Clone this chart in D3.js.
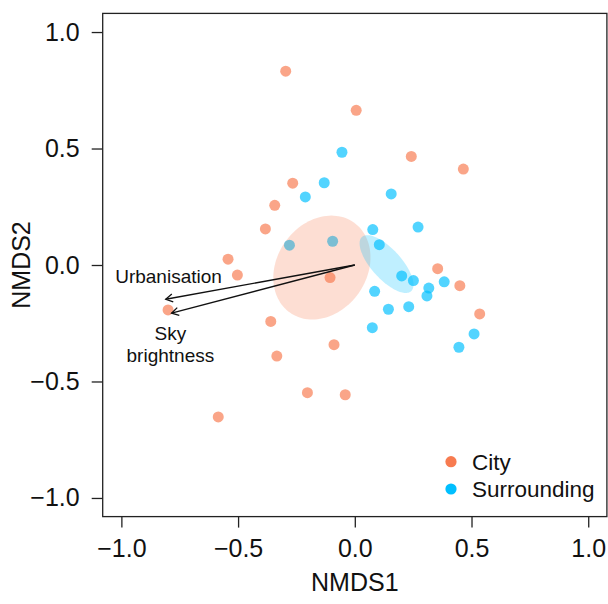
<!DOCTYPE html>
<html>
<head>
<meta charset="utf-8">
<script src="https://cdn.jsdelivr.net/npm/d3@7"></script>
<style>
  html, body { margin: 0; padding: 0; background: #fff; }
  svg { display: block; font-family: "Liberation Sans", Arial, sans-serif; }
</style>
</head>
<body>
<svg id="chart" width="608" height="604"></svg>
<script>
// ---- data ----
const cityX = [-0.296, 0.006, 0.242, 0.465, -0.266, -0.343, -0.383, -0.543, -0.503, -0.106,
               0.355, 0.450, 0.535, -0.800, -0.360, -0.089, -0.334, -0.203, -0.041, -0.585];
const cityY = [0.832, 0.664, 0.466, 0.412, 0.351, 0.256, 0.155, 0.025, -0.043, -0.054,
               -0.016, -0.089, -0.210, -0.193, -0.242, -0.342, -0.391, -0.548, -0.557, -0.652];
const surrX = [-0.055, -0.131, -0.212, 0.156, 0.271, 0.077, 0.105, -0.280, -0.095, 0.201,
               0.251, 0.383, 0.317, 0.309, 0.085, 0.144, 0.231, 0.075, 0.511, 0.446];
const surrY = [0.484, 0.353, 0.292, 0.305, 0.163, 0.152, 0.087, 0.085, 0.102, -0.047,
               -0.067, -0.072, -0.099, -0.133, -0.113, -0.190, -0.179, -0.269, -0.296, -0.353];

// ellipses: [centerX, centerY, semiMajor, semiMinor, angleDeg]
const groups = ["City", "Surrounding"];
const groupColors = ["#F77B50", "#00BFFF"];
const ellipseCity = [-0.141, -0.011, 0.237, 0.192, 54.7];
const ellipseSurr = [0.136, 0.004, 0.157, 0.064, -47.9];

// environmental vectors
const vecNames = ["Urbanisation", "Sky brightness"];
const vecX = [-0.810, -0.785];
const vecY = [-0.147, -0.207];

const xTicks = [-1.0, -0.5, 0.0, 0.5, 1.0];
const yTicks = [-1.0, -0.5, 0.0, 0.5, 1.0];

// ---- chart ----
const svg = d3.select("#chart");
const x = d3.scaleLinear().domain([-1.08, 1.08]).range([102.7, 606.9]);
const y = d3.scaleLinear().domain([-1.08, 1.08]).range([516.6, 13.4]);
const fmt = d3.format(".1f");

// axes
const xAxis = svg.append("g").attr("transform", `translate(0,${y(-1.08)})`)
  .call(d3.axisBottom(x).tickValues(xTicks).tickFormat(fmt).tickSize(11).tickPadding(12));
const yAxis = svg.append("g").attr("transform", `translate(${x(-1.08)},0)`)
  .call(d3.axisLeft(y).tickValues(yTicks).tickFormat(fmt).tickSize(11).tickPadding(12));
[xAxis, yAxis].forEach(g => {
  g.select(".domain").remove();
  g.selectAll(".tick line").attr("stroke", "#222").attr("stroke-width", 1.3);
  g.selectAll(".tick text").attr("fill", "#111").style("font-size", "25px")
    .style("font-family", "'Liberation Sans', Arial, sans-serif");
});

// points
const pts = svg.append("g");
pts.selectAll("circle.city").data(cityX).enter().append("circle")
  .attr("cx", (d, i) => x(d)).attr("cy", (d, i) => y(cityY[i])).attr("r", 5.5)
  .attr("fill", groupColors[0]).attr("fill-opacity", 0.68);
pts.selectAll("circle.surr").data(surrX).enter().append("circle")
  .attr("cx", (d, i) => x(d)).attr("cy", (d, i) => y(surrY[i])).attr("r", 5.5)
  .attr("fill", groupColors[1]).attr("fill-opacity", 0.68);

// ellipses
function ellipsePath(p) {
  const [cx, cy, a, b, ang] = p;
  const t = ang * Math.PI / 180;
  const pts = d3.range(0, 361, 3).map(deg => {
    const s = deg * Math.PI / 180;
    const ex = a * Math.cos(s), ey = b * Math.sin(s);
    return [x(cx + ex * Math.cos(t) - ey * Math.sin(t)), y(cy + ex * Math.sin(t) + ey * Math.cos(t))];
  });
  return d3.line()(pts) + "Z";
}
svg.append("path").attr("d", ellipsePath(ellipseCity))
  .attr("fill", groupColors[0]).attr("fill-opacity", 0.25);
svg.append("path").attr("d", ellipsePath(ellipseSurr))
  .attr("fill", groupColors[1]).attr("fill-opacity", 0.25);

// arrows
const arr = svg.append("g");
vecX.forEach((vx, i) => {
  const x0 = x(0), y0 = y(0), x1 = x(vx), y1 = y(vecY[i]);
  arr.append("line").attr("x1", x0).attr("y1", y0).attr("x2", x1).attr("y2", y1)
    .attr("stroke", "#111").attr("stroke-width", 1.3);
  const ang = Math.atan2(y1 - y0, x1 - x0);
  const L = 8, h = Math.PI / 6;
  const p1 = [x1 - L * Math.cos(ang - h), y1 - L * Math.sin(ang - h)];
  const p2 = [x1 - L * Math.cos(ang + h), y1 - L * Math.sin(ang + h)];
  arr.append("path").attr("d", `M${p1}L${x1},${y1}L${p2}`)
    .attr("fill", "none").attr("stroke", "#111").attr("stroke-width", 1.3);
});

// vector labels
svg.append("text").attr("x", x(-0.798)).attr("y", y(-0.078)).attr("text-anchor", "middle")
  .style("font-size", "19px").attr("fill", "#111").text("Urbanisation");
const sky = svg.append("text").attr("text-anchor", "middle").style("font-size", "19px").attr("fill", "#111");
sky.append("tspan").attr("x", x(-0.79)).attr("y", y(-0.323)).text("Sky");
sky.append("tspan").attr("x", x(-0.79)).attr("y", y(-0.417)).text("brightness");

// box
svg.append("rect").attr("x", x(-1.08)).attr("y", y(1.08))
  .attr("width", x(1.08) - x(-1.08)).attr("height", y(-1.08) - y(1.08))
  .attr("fill", "none").attr("stroke", "#222").attr("stroke-width", 1.3);

// axis titles
svg.append("text").attr("x", x(0)).attr("y", 591).attr("text-anchor", "middle")
  .style("font-size", "25px").attr("fill", "#111").text("NMDS1");
svg.append("text").attr("transform", `translate(30,${y(0)}) rotate(-90)`).attr("text-anchor", "middle")
  .style("font-size", "25px").attr("fill", "#111").text("NMDS2");

// legend
const leg = svg.append("g");
groups.forEach((g, i) => {
  const ly = 461.7 + i * 27.3;
  leg.append("circle").attr("cx", 451).attr("cy", ly).attr("r", 5.6).attr("fill", groupColors[i]);
  leg.append("text").attr("x", 472).attr("y", ly + 7.8).style("font-size", "22.5px")
    .attr("fill", "#111").text(g);
});
</script>
</body>
</html>
